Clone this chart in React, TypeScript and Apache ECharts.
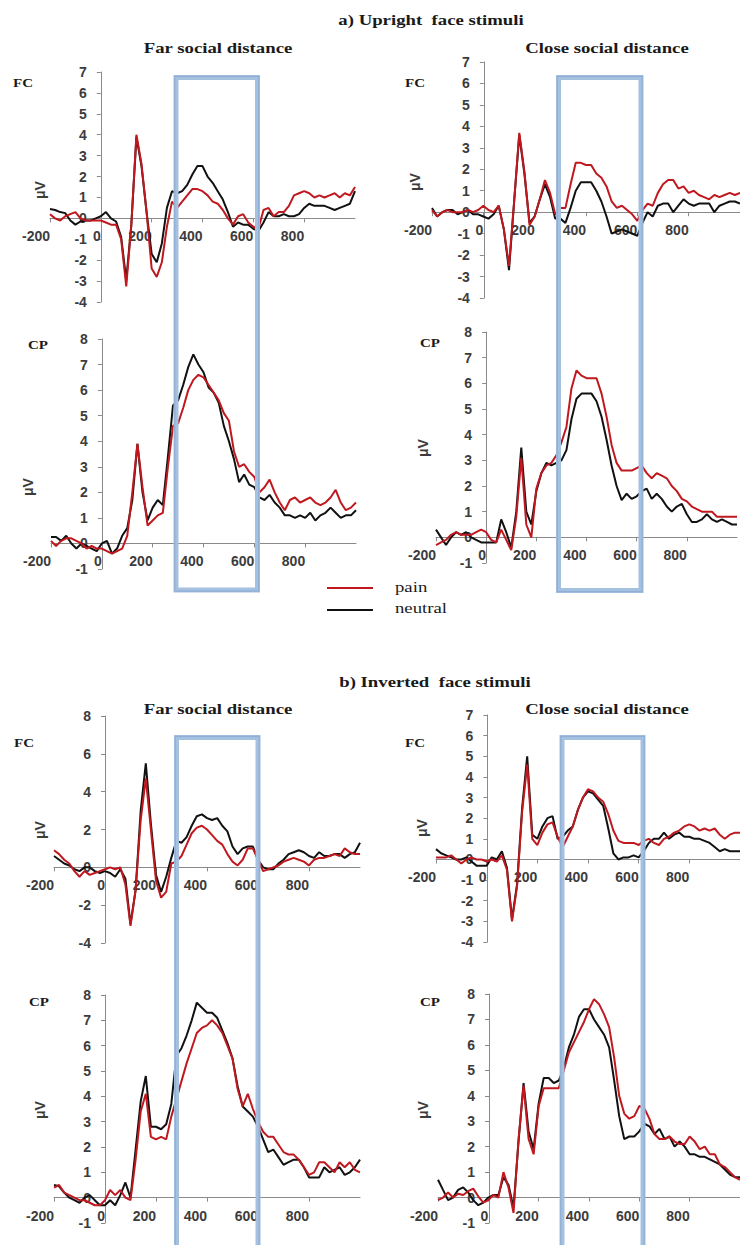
import React, { useEffect, useRef } from "react";
import * as echarts from "echarts";

// time axis (ms)
const times = [
  -200, -180, -160, -140, -120, -100, -80, -60, -40, -20,
  0, 20, 40, 60, 80, 100, 120, 140, 160, 180,
  200, 220, 240, 260, 280, 300, 320, 340, 360, 380,
  400, 420, 440, 460, 480, 500, 520, 540, 560, 580,
  600, 620, 640, 660, 680, 700, 720, 740, 760, 780,
  800, 820, 840, 860, 880, 900, 920, 940, 960, 980,
  1000,
];
const timeMin = -200;
const timeMax = 1000;
const timeStep = 200;

// a) Upright, far, FC
const uprightFarFcNeutral = [
  0.45, 0.4, 0.3, 0.25, -0.1, -0.3, -0.15, -0.1, -0.1, 0.0,
  0.1, 0.3, 0.0, -0.15, -0.9, -2.95, -0.3, 3.9, 2.5, 0.3,
  -1.7, -2.1, -1.2, 0.5, 1.3, 1.2, 1.3, 1.6, 2.1, 2.5,
  2.5, 2.0, 1.7, 1.3, 0.9, 0.3, -0.4, -0.2, -0.3, -0.3,
  -0.5, -0.6, -0.2, 0.3, 0.1, 0.1, 0.2, 0.1, 0.1, 0.2,
  0.5, 0.7, 0.6, 0.6, 0.6, 0.5, 0.4, 0.5, 0.6, 0.7,
  1.3,
];
const uprightFarFcPain = [
  0.2, 0.0, -0.1, 0.1, 0.2, 0.3, 0.0, -0.1, -0.1, -0.1,
  -0.1, -0.2, -0.3, -0.3, -1.0, -3.25, -0.3, 4.0, 2.6, 0.3,
  -2.4, -2.8, -2.1, -0.4, 0.8, 0.5, 0.8, 1.1, 1.4, 1.4,
  1.3, 1.1, 0.8, 0.7, 0.4, 0.0, -0.3, 0.1, 0.2, -0.2,
  -0.4, -0.5, 0.4, 0.5, 0.1, 0.3, 0.3, 0.6, 1.1, 1.2,
  1.3, 1.2, 1.0, 1.1, 1.0, 1.1, 1.2, 1.0, 1.2, 1.1,
  1.5,
];

// a) Upright, close, FC
const uprightCloseFcNeutral = [
  0.2, -0.2, 0.0, 0.1, 0.1, -0.1, 0.0, 0.1, -0.1, -0.1,
  -0.2, -0.3, -0.1, 0.3, -0.8, -2.7, 0.5, 3.6, 1.8, -0.5,
  -0.2, 0.6, 1.3, 0.7, -0.3, -0.3, -0.5, 0.2, 1.0, 1.4,
  1.4, 1.4, 1.0, 0.5, -0.2, -1.0, -0.9, -0.8, -0.9, -1.0,
  -1.1, -0.5, 0.0, -0.2, 0.3, 0.4, 0.4, 0.0, 0.3, 0.6,
  0.4, 0.3, 0.4, 0.4, 0.4, 0.0, 0.3, 0.4, 0.5, 0.5,
  0.4,
];
const uprightCloseFcPain = [
  0.1, -0.2, 0.0, 0.1, 0.0, 0.0, 0.0, 0.1, 0.0, 0.1,
  0.3, 0.1, 0.0, 0.3, -0.8, -2.5, 0.5, 3.7, 1.9, -0.6,
  -0.2, 0.6, 1.5, 0.9, -0.1, 0.2, 0.2, 1.3, 2.3, 2.3,
  2.2, 2.2, 1.8, 1.6, 1.2, 0.5, 0.2, 0.3, 0.1, -0.1,
  -0.4, 0.1, 0.4, 0.3, 0.9, 1.3, 1.5, 1.5, 1.1, 1.2,
  0.9, 1.0, 0.8, 0.7, 0.6, 0.8, 0.7, 0.8, 0.9, 0.8,
  0.9,
];

// a) Upright, far, CP
const uprightFarCpNeutral = [
  0.25, 0.25, 0.1, 0.3, 0.0, -0.2, 0.0, -0.1, -0.2, -0.3,
  0.0, 0.1, -0.4, -0.2, 0.3, 0.6, 1.7, 3.9, 2.0, 0.9,
  1.4, 1.7, 1.5, 3.4, 5.4, 5.6, 6.2, 6.9, 7.4, 7.0,
  6.7, 6.1, 5.9, 5.5, 4.6, 4.0, 3.3, 2.4, 2.7, 2.3,
  2.2, 1.8, 1.7, 1.9, 1.6, 1.4, 1.1, 1.1, 1.0, 1.1,
  1.0, 1.2, 0.9, 1.1, 1.2, 1.4, 1.2, 1.0, 1.1, 1.1,
  1.3,
];
const uprightFarCpPain = [
  0.1, -0.1, 0.1, 0.2, 0.2, 0.1, 0.0, -0.2, -0.1, -0.2,
  -0.2, -0.3, -0.4, -0.3, -0.2, 0.3, 2.0, 3.9, 2.2, 0.7,
  0.9, 1.1, 1.2, 3.0, 4.6, 4.7, 5.3, 6.0, 6.4, 6.6,
  6.5, 6.2, 5.9, 5.6, 5.1, 4.8, 3.6, 3.0, 3.1, 2.8,
  2.6, 2.0, 2.2, 2.5, 2.0, 1.6, 1.3, 1.7, 1.8, 1.6,
  1.7, 1.8, 1.6, 1.5, 1.6, 1.8, 2.1, 1.6, 1.3, 1.4,
  1.6,
];

// a) Upright, close, CP
const uprightCloseCpNeutral = [
  0.3, 0.0, -0.3, 0.0, 0.2, 0.1, 0.2, 0.0, -0.1, -0.2,
  -0.2, -0.2, -0.2, 0.7, 0.2, -0.4, 1.0, 3.5, 1.0, 0.5,
  1.8, 2.5, 2.9, 2.8, 2.9, 3.0, 3.4, 4.6, 5.4, 5.6,
  5.6, 5.6, 5.3, 4.7, 3.8, 2.8, 2.0, 1.45, 1.7, 1.5,
  1.6, 1.8, 1.9, 1.5, 1.7, 1.5, 1.2, 1.0, 1.2, 1.3,
  0.9, 0.6, 0.6, 0.7, 0.9, 0.7, 0.6, 0.7, 0.6, 0.5,
  0.5,
];
const uprightCloseCpPain = [
  -0.3, -0.2, -0.1, 0.1, 0.2, 0.1, 0.1, 0.1, 0.2, 0.3,
  0.2, -0.1, -0.2, 0.3, -0.1, -0.5, 0.8, 3.1, 0.5, 0.0,
  1.9, 2.5, 2.8, 2.9, 3.2, 3.7, 4.3, 5.8, 6.5, 6.3,
  6.2, 6.2, 6.2, 5.6, 4.7, 3.6, 2.9, 2.6, 2.6, 2.6,
  2.7, 2.8, 2.5, 2.3, 2.5, 2.4, 2.3, 2.0, 1.8, 1.5,
  1.4, 1.2, 1.1, 1.0, 1.0, 1.0, 0.8, 0.8, 0.8, 0.8,
  0.8,
];

// b) Inverted, far, FC
const invertedFarFcNeutral = [
  0.6, 0.4, 0.2, 0.1, -0.1, -0.2, 0.0, 0.0, -0.2, -0.3,
  -0.2, -0.3, -0.5, -0.1, -0.6, -3.0, -1.2, 3.0, 5.5, 2.3,
  -0.4, -1.3, -0.5, 0.5, 1.4, 1.3, 1.6, 2.2, 2.7, 2.8,
  2.6, 2.5, 2.6, 2.2, 1.9, 1.1, 0.7, 1.0, 1.1, 1.1,
  0.4, 0.0, -0.1, -0.1, 0.2, 0.4, 0.7, 0.8, 0.9, 0.8,
  0.6, 0.5, 0.8, 0.6, 0.6, 0.7, 0.7, 0.5, 0.7, 0.8,
  1.3,
];
const invertedFarFcPain = [
  0.9, 0.7, 0.4, 0.2, -0.2, -0.5, -0.2, -0.4, -0.3, -0.2,
  -0.1, 0.0, -0.1, 0.0, -0.9, -3.1, -1.2, 2.5, 4.7, 2.0,
  -0.7, -1.6, -1.3, 0.2, 0.3, 0.6, 1.2, 1.8, 2.1, 2.2,
  2.0, 1.7, 1.4, 1.2, 0.7, 0.3, 0.1, 0.4, 1.0, 1.0,
  0.4, -0.2, -0.1, 0.0, 0.1, 0.3, 0.4, 0.5, 0.4, 0.3,
  0.1, 0.4, 0.5, 0.5, 0.6, 0.7, 0.6, 1.0, 0.8, 0.7,
  0.7,
];

// b) Inverted, close, FC
const invertedCloseFcNeutral = [
  0.5, 0.3, 0.2, 0.1, 0.0, 0.0, 0.1, -0.1, -0.3, -0.3,
  -0.3, 0.1, 0.0, 0.4, -0.4, -2.9, -1.2, 2.5, 5.0, 1.2,
  1.0, 1.6, 2.0, 2.1, 1.0, 1.1, 1.4, 1.6, 2.4, 3.0,
  3.3, 3.2, 2.9, 2.6, 1.5, 0.3, 0.0, 0.1, 0.1, 0.2,
  0.1, 0.4, 0.8, 1.0, 1.0, 1.3, 1.0, 1.2, 1.3, 1.1,
  1.1, 1.0, 1.0, 0.9, 0.8, 0.6, 0.4, 0.5, 0.4, 0.4,
  0.4,
];
const invertedCloseFcPain = [
  0.1, 0.1, 0.1, 0.2, 0.0, -0.2, 0.0, 0.1, 0.0, 0.0,
  -0.1, 0.0, -0.1, 0.2, -0.5, -3.0, -1.3, 2.3, 4.6, 1.0,
  0.7, 1.3, 1.7, 1.8, 1.1, 0.6, 1.1, 1.6, 2.4, 3.0,
  3.4, 3.3, 3.0, 2.8, 2.2, 1.4, 0.9, 0.8, 0.8, 0.8,
  0.7, 0.9, 1.0, 0.8, 0.7, 1.0, 1.1, 1.3, 1.4, 1.6,
  1.7, 1.6, 1.4, 1.5, 1.4, 1.5, 1.2, 1.0, 1.2, 1.3,
  1.3,
];

// b) Inverted, far, CP
const invertedFarCpNeutral = [
  0.5, 0.45, 0.2, 0.0, -0.1, -0.2, 0.0, 0.1, -0.1, -0.3,
  -0.3, -0.1, -0.3, 0.1, 0.6, 0.0, 1.9, 3.8, 4.8, 2.8,
  2.8, 2.7, 2.9, 3.7, 5.6, 5.9, 6.4, 7.0, 7.7, 7.5,
  7.3, 7.3, 7.1, 6.6, 6.1, 5.5, 4.4, 3.6, 3.4, 3.2,
  2.8, 2.3, 1.8, 1.9, 1.6, 1.3, 1.4, 1.5, 1.5, 1.2,
  0.8, 0.8, 0.8, 1.2, 1.0, 1.1, 1.2, 0.9, 1.0, 1.2,
  1.5,
];
const invertedFarCpPain = [
  0.4, 0.5, 0.2, 0.1, 0.0, -0.1, -0.1, -0.2, -0.3, -0.3,
  -0.1, 0.3, 0.1, 0.3, 0.0, -0.1, 1.5, 3.4, 4.1, 2.4,
  2.3, 2.4, 2.3, 3.2, 3.9, 4.6, 5.3, 5.9, 6.5, 6.7,
  6.8, 7.0, 6.8, 6.5, 6.0, 5.5, 4.3, 3.6, 4.1, 3.5,
  3.0, 2.6, 2.4, 2.4, 2.1, 1.8, 1.7, 1.7, 1.5, 1.2,
  0.9, 1.0, 1.4, 1.4, 1.2, 1.0, 1.4, 1.2, 1.4, 1.1,
  1.0,
];

// b) Inverted, close, CP
const invertedCloseCpNeutral = [
  0.7, 0.3, -0.1, 0.0, 0.3, 0.4, 0.2, -0.1, -0.3, -0.2,
  0.0, 0.1, 0.1, 0.8, 0.5, -0.4, 2.2, 4.5, 2.6, 1.9,
  3.7, 4.7, 4.7, 4.5, 4.6, 5.1, 5.9, 6.4, 7.1, 7.4,
  7.4, 7.0, 6.7, 6.4, 5.9, 4.6, 3.2, 2.3, 2.4, 2.4,
  2.6, 2.9, 2.8, 2.5, 2.7, 2.3, 2.4, 2.0, 2.2, 2.0,
  1.7, 1.7, 1.6, 1.6, 1.5, 1.4, 1.3, 1.1, 0.9, 0.8,
  0.8,
];
const invertedCloseCpPain = [
  -0.1, 0.0, 0.2, 0.0, 0.15, 0.1, 0.25, 0.35, 0.05, -0.2,
  -0.1, 0.1, 0.0, 1.0, 0.4, -0.6, 2.3, 4.4, 2.3, 1.7,
  3.6, 4.3, 4.3, 4.3, 4.3, 5.0, 5.7, 6.1, 6.5, 6.9,
  7.4, 7.8, 7.6, 7.2, 6.7, 5.5, 4.0, 3.3, 3.1, 3.2,
  3.6, 3.5, 3.1, 2.5, 2.3, 2.3, 2.4, 2.2, 2.1, 2.1,
  2.4, 2.2, 1.9, 2.0, 1.7, 1.7, 1.3, 1.2, 1.0, 0.8,
  0.7,
];

const legendNames = ["pain", "neutral"];
const sectionTitles = ["a) Upright  face stimuli", "b) Inverted  face stimuli"];
const columnTitles = ["Far social distance", "Close social distance"];

const RED = "#C0181F";
const BLACK = "#111111";
const AXIS = "#8a8a8a";
const LABEL = "#3c3c3c";
const BLUE = "#A6C0E0";

const panels = [
  { box: [50, 72, 305, 230], yMin: -4, yMax: 7, yStep: 1, site: "FC", siteXY: [23, 83], uvXY: [40, 190], neutral: uprightFarFcNeutral, pain: uprightFarFcPain },
  { box: [432, 62, 311, 236], yMin: -4, yMax: 7, yStep: 1, site: "FC", siteXY: [415, 83], uvXY: [415, 182], neutral: uprightCloseFcNeutral, pain: uprightCloseFcPain },
  { box: [51, 339, 305, 230], yMin: -1, yMax: 8, yStep: 1, site: "CP", siteXY: [38, 345], uvXY: [28, 487], neutral: uprightFarCpNeutral, pain: uprightFarCpPain },
  { box: [436, 332, 301, 231], yMin: -1, yMax: 8, yStep: 1, site: "CP", siteXY: [430, 343], uvXY: [423, 448], neutral: uprightCloseCpNeutral, pain: uprightCloseCpPain },
  { box: [54, 716, 306, 227], yMin: -4, yMax: 8, yStep: 2, site: "FC", siteXY: [24, 743], uvXY: [40, 830], neutral: invertedFarFcNeutral, pain: invertedFarFcPain },
  { box: [436, 715, 308, 227], yMin: -4, yMax: 7, yStep: 1, site: "FC", siteXY: [415, 743], uvXY: [422, 828], neutral: invertedCloseFcNeutral, pain: invertedCloseFcPain },
  { box: [54, 995, 306, 228], yMin: -1, yMax: 8, yStep: 1, site: "CP", siteXY: [39, 1002], uvXY: [40, 1110], neutral: invertedFarCpNeutral, pain: invertedFarCpPain },
  { box: [438, 994, 306, 229], yMin: -1, yMax: 8, yStep: 1, site: "CP", siteXY: [430, 1002], uvXY: [423, 1110], neutral: invertedCloseCpNeutral, pain: invertedCloseCpPain },
];

const SERIF = '"Liberation Serif", "Times New Roman", serif';
const SANS = '"Liberation Sans", Arial, sans-serif';

function serifText(text: string, x: number, y: number, size: number, bold: boolean, align: string) {
  return {
    type: "text",
    x,
    y,
    scaleX: 1.25,
    z: 50,
    style: {
      text,
      font: `${bold ? "bold " : ""}${size}px ${SERIF}`,
      fill: "#1a1a1a",
      textAlign: align,
      textVerticalAlign: "middle",
    },
  };
}

export default function App() {
  const ref = useRef<HTMLDivElement>(null);

  useEffect(() => {
    if (!ref.current) return;
    const chart = echarts.init(ref.current, undefined, { renderer: "svg" });

    const grid: any[] = [];
    const xAxis: any[] = [];
    const yAxis: any[] = [];
    const series: any[] = [];
    const graphic: any[] = [];

    panels.forEach((p, i) => {
      const [gl, gt, gw, gh] = p.box;
      grid.push({ left: gl, top: gt, width: gw, height: gh, containLabel: false });
      // shift axes so they cross at (0 ms, 0 µV)
      const yShift = ((0 - timeMin) / (timeMax - timeMin)) * gw;
      const xShift = ((0 - p.yMin) / (p.yMax - p.yMin)) * gh;
      xAxis.push({
        gridIndex: i,
        type: "value",
        position: "bottom",
        offset: -xShift,
        min: timeMin,
        max: timeMax,
        interval: timeStep,
        axisLine: { show: true, onZero: false, lineStyle: { color: AXIS, width: 1 } },
        axisTick: { show: true, length: 4, lineStyle: { color: AXIS } },
        splitLine: { show: false },
        axisLabel: {
          align: "right",
          margin: 11,
          showMaxLabel: false,
          fontSize: 14,
          fontWeight: "bold",
          fontFamily: SANS,
          color: LABEL,
        },
      });
      yAxis.push({
        gridIndex: i,
        type: "value",
        position: "left",
        offset: -yShift,
        min: p.yMin,
        max: p.yMax,
        interval: p.yStep,
        axisLine: { show: true, onZero: false, lineStyle: { color: AXIS, width: 1 } },
        axisTick: { show: true, length: 4, lineStyle: { color: AXIS } },
        splitLine: { show: false },
        axisLabel: {
          margin: 14,
          fontSize: 14,
          fontWeight: "bold",
          fontFamily: SANS,
          color: LABEL,
        },
      });
      const mk = (name: string, arr: number[], color: string, z: number) => ({
        type: "line",
        name,
        xAxisIndex: i,
        yAxisIndex: i,
        data: times.map((t, k) => [t, arr[k]]),
        showSymbol: false,
        symbol: "none",
        silent: true,
        z,
        lineStyle: { color, width: 2 },
        itemStyle: { color },
      });
      series.push(mk(legendNames[1], p.neutral, BLACK, 3));
      series.push(mk(legendNames[0], p.pain, RED, 4));

      graphic.push(serifText(p.site, p.siteXY[0], p.siteXY[1], 12, true, "center"));
      graphic.push({
        type: "text",
        x: p.uvXY[0],
        y: p.uvXY[1],
        rotation: Math.PI / 2,
        z: 50,
        style: {
          text: "μV",
          font: `bold 14px ${SANS}`,
          fill: LABEL,
          textAlign: "center",
          textVerticalAlign: "middle",
        },
      });
    });

    // titles
    graphic.push(serifText(sectionTitles[0], 431, 20, 15, true, "center"));
    graphic.push(serifText(sectionTitles[1], 435, 682, 15, true, "center"));
    graphic.push(serifText(columnTitles[0], 218, 48, 15, true, "center"));
    graphic.push(serifText(columnTitles[1], 607, 48, 15, true, "center"));
    graphic.push(serifText(columnTitles[0], 218, 709, 15, true, "center"));
    graphic.push(serifText(columnTitles[1], 607, 709, 15, true, "center"));

    // legend
    graphic.push({ type: "line", z: 50, shape: { x1: 327, y1: 588, x2: 373, y2: 588 }, style: { stroke: RED, lineWidth: 2 } });
    graphic.push({ type: "line", z: 50, shape: { x1: 327, y1: 610, x2: 373, y2: 610 }, style: { stroke: BLACK, lineWidth: 2 } });
    graphic.push(serifText(legendNames[0], 395, 587, 15, false, "left"));
    graphic.push(serifText(legendNames[1], 395, 608, 15, false, "left"));

    // highlighted time windows
    const rects = [
      [176, 77.5, 81.5, 512.5],
      [558.5, 77.5, 82.5, 513],
      [176.5, 737.5, 81.5, 600],
      [562, 737.5, 81, 600],
    ];
    rects.forEach((r) => {
      graphic.push({
        type: "rect",
        z: 100,
        shape: { x: r[0], y: r[1], width: r[2], height: r[3] },
        style: { fill: "none", stroke: BLUE, lineWidth: 5 },
      });
      graphic.push({
        type: "rect",
        z: 101,
        shape: { x: r[0] - 1.2, y: r[1] - 1.2, width: r[2] + 2.4, height: r[3] + 2.4 },
        style: { fill: "none", stroke: "#8EAED6", lineWidth: 1.2 },
      });
    });

    chart.setOption({
      animation: false,
      backgroundColor: "#ffffff",
      grid,
      xAxis,
      yAxis,
      series,
      graphic: { elements: graphic },
    });

    return () => {
      chart.dispose();
    };
  }, []);

  return (
    <div
      ref={ref}
      style={{ position: "absolute", left: 0, top: 0, width: 740, height: 1245, background: "#fff" }}
    />
  );
}
